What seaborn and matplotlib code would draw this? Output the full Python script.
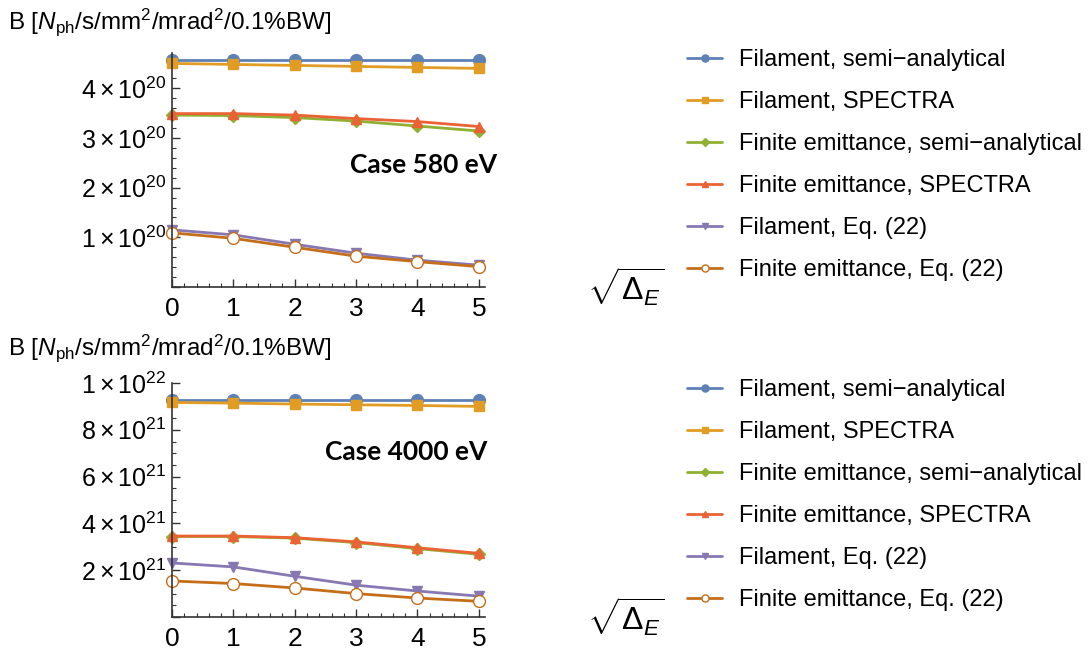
import numpy as np
import pandas as pd
import seaborn as sns
import matplotlib
matplotlib.use("Agg")
import matplotlib.pyplot as plt
from matplotlib.ticker import MultipleLocator, FuncFormatter

sns.set_theme(style="ticks")
plt.rcParams['font.family'] = ['Liberation Sans', 'DejaVu Sans']
plt.rcParams['mathtext.fontset'] = 'custom'
plt.rcParams['mathtext.rm'] = 'Liberation Sans'
plt.rcParams['mathtext.it'] = 'Liberation Sans:italic'
plt.rcParams['mathtext.bf'] = 'Liberation Sans:bold'
plt.rcParams['text.color'] = 'black'

x = [0, 1, 2, 3, 4, 5]

labels = ["Filament, semi\u2212analytical", "Filament, SPECTRA",
          "Finite emittance, semi\u2212analytical", "Finite emittance, SPECTRA",
          "Filament, Eq. (22)", "Finite emittance, Eq. (22)"]
colors = ["#5E81B5", "#E19C24", "#8FB032", "#EB6235", "#8778B3", "#C56E1A"]
markers = ["o", "s", "D", "^", "v", "o"]

# case 580 eV (units of 1e20)
b580_fil_semi = [4.57, 4.57, 4.57, 4.57, 4.57, 4.57]
b580_fil_spec = [4.50, 4.48, 4.46, 4.44, 4.42, 4.40]
b580_fin_semi = [3.46, 3.45, 3.41, 3.34, 3.24, 3.14]
b580_fin_spec = [3.49, 3.49, 3.46, 3.39, 3.33, 3.23]
b580_fil_eq = [1.15, 1.05, 0.86, 0.68, 0.54, 0.44]
b580_fin_eq = [1.09, 0.98, 0.80, 0.62, 0.51, 0.41]

# case 4000 eV (units of 1e21)
b4000_fil_semi = [9.29, 9.29, 9.29, 9.29, 9.29, 9.29]
b4000_fil_spec = [9.17, 9.14, 9.10, 9.07, 9.04, 9.00]
b4000_fin_semi = [3.44, 3.44, 3.37, 3.18, 2.92, 2.68]
b4000_fin_spec = [3.46, 3.46, 3.39, 3.21, 2.96, 2.72]
b4000_fil_eq = [2.31, 2.14, 1.74, 1.36, 1.11, 0.89]
b4000_fin_eq = [1.54, 1.43, 1.24, 1.00, 0.81, 0.67]

top = [b580_fil_semi, b580_fil_spec, b580_fin_semi, b580_fin_spec, b580_fil_eq, b580_fin_eq]
bot = [b4000_fil_semi, b4000_fil_spec, b4000_fin_semi, b4000_fin_spec, b4000_fil_eq, b4000_fin_eq]

fig = plt.figure(figsize=(10.88, 6.54), dpi=100)
ax1 = fig.add_axes([172/1088, 1-287/654, 313/1088, 234/654])
ax2 = fig.add_axes([172/1088, 1-617/654, 313/1088, 234/654])


def sci(v, p):
    if v <= 0:
        return ""
    e = int(np.floor(np.log10(v) + 1e-9))
    m = round(v / 10**e)
    return r"$%d\times10^{%d}$" % (m, e)


def draw(ax, data, scale, ymax, major, minor, legend_y):
    for i, vals in enumerate(data):
        d = pd.DataFrame({"x": x, "y": np.array(vals) * scale})
        face = "white" if i == 5 else colors[i]
        ms = 8.5 if markers[i] == "o" else 7.5
        if markers[i] == "D":
            ms = 6.5
        sns.lineplot(data=d, x="x", y="y", ax=ax, color=colors[i], marker=markers[i],
                     markersize=ms, markerfacecolor=face, markeredgecolor=colors[i],
                     markeredgewidth=1.0, linewidth=2, clip_on=False, label=labels[i],
                     legend=False)
    handles = ax.get_lines()
    ax.set_xlim(0, 5.1)
    ax.set_ylim(0, ymax)
    ax.xaxis.set_major_locator(MultipleLocator(1))
    ax.xaxis.set_minor_locator(MultipleLocator(0.2))
    ax.yaxis.set_major_locator(MultipleLocator(major))
    ax.yaxis.set_minor_locator(MultipleLocator(minor))
    ax.yaxis.set_major_formatter(FuncFormatter(sci))
    ax.tick_params(which="major", direction="in", length=6, width=1, colors="#333333",
                   labelcolor="black")
    ax.tick_params(which="minor", direction="in", length=3, width=0.8, colors="#333333")
    ax.tick_params(axis="x", pad=7, labelsize=19)
    ax.tick_params(axis="y", pad=4, labelsize=18)
    ax.set_xlabel("")
    ax.set_ylabel("")
    for s in ["top", "right"]:
        ax.spines[s].set_visible(False)
    for s in ["left", "bottom"]:
        ax.spines[s].set_color("#333333")
        ax.spines[s].set_linewidth(1.2)
    fig.legend(handles, labels, loc="upper left", bbox_to_anchor=(687/1088, legend_y),
               frameon=False, fontsize=17, markerscale=0.6, handlelength=1.5,
               handletextpad=0.7, labelspacing=0.85, borderpad=0, borderaxespad=0)


draw(ax1, top, 1e20, 4.71e20, 1e20, 0.2e20, 1-49/654)
draw(ax2, bot, 1e21, 1e22, 2e21, 0.5e21, 1-379/654)

title = r"B [$\mathit{N}_{\mathrm{ph}}$/s/mm$^2$/mrad$^2$/0.1%BW]"
fig.text(8/1088, 1-22/654, title, fontsize=17.5, va="center", ha="left")
fig.text(8/1088, 1-348/654, title, fontsize=17.5, va="center", ha="left")

fig.text(424/1088, 1-165/654, "Case 580 eV", fontsize=19, fontweight="bold",
         family=["Lato", "DejaVu Sans"], ha="center", va="center")
fig.text(406/1088, 1-452/654, "Case 4000 eV", fontsize=19, fontweight="bold",
         family=["Lato", "DejaVu Sans"], ha="center", va="center")

fig.text(626/1088, 1-287/654, r"$\sqrt{\Delta_{\mathit{E}}}$", fontsize=23, ha="center", va="center")
fig.text(626/1088, 1-617/654, r"$\sqrt{\Delta_{\mathit{E}}}$", fontsize=23, ha="center", va="center")

fig.savefig("out.png", dpi=100)
